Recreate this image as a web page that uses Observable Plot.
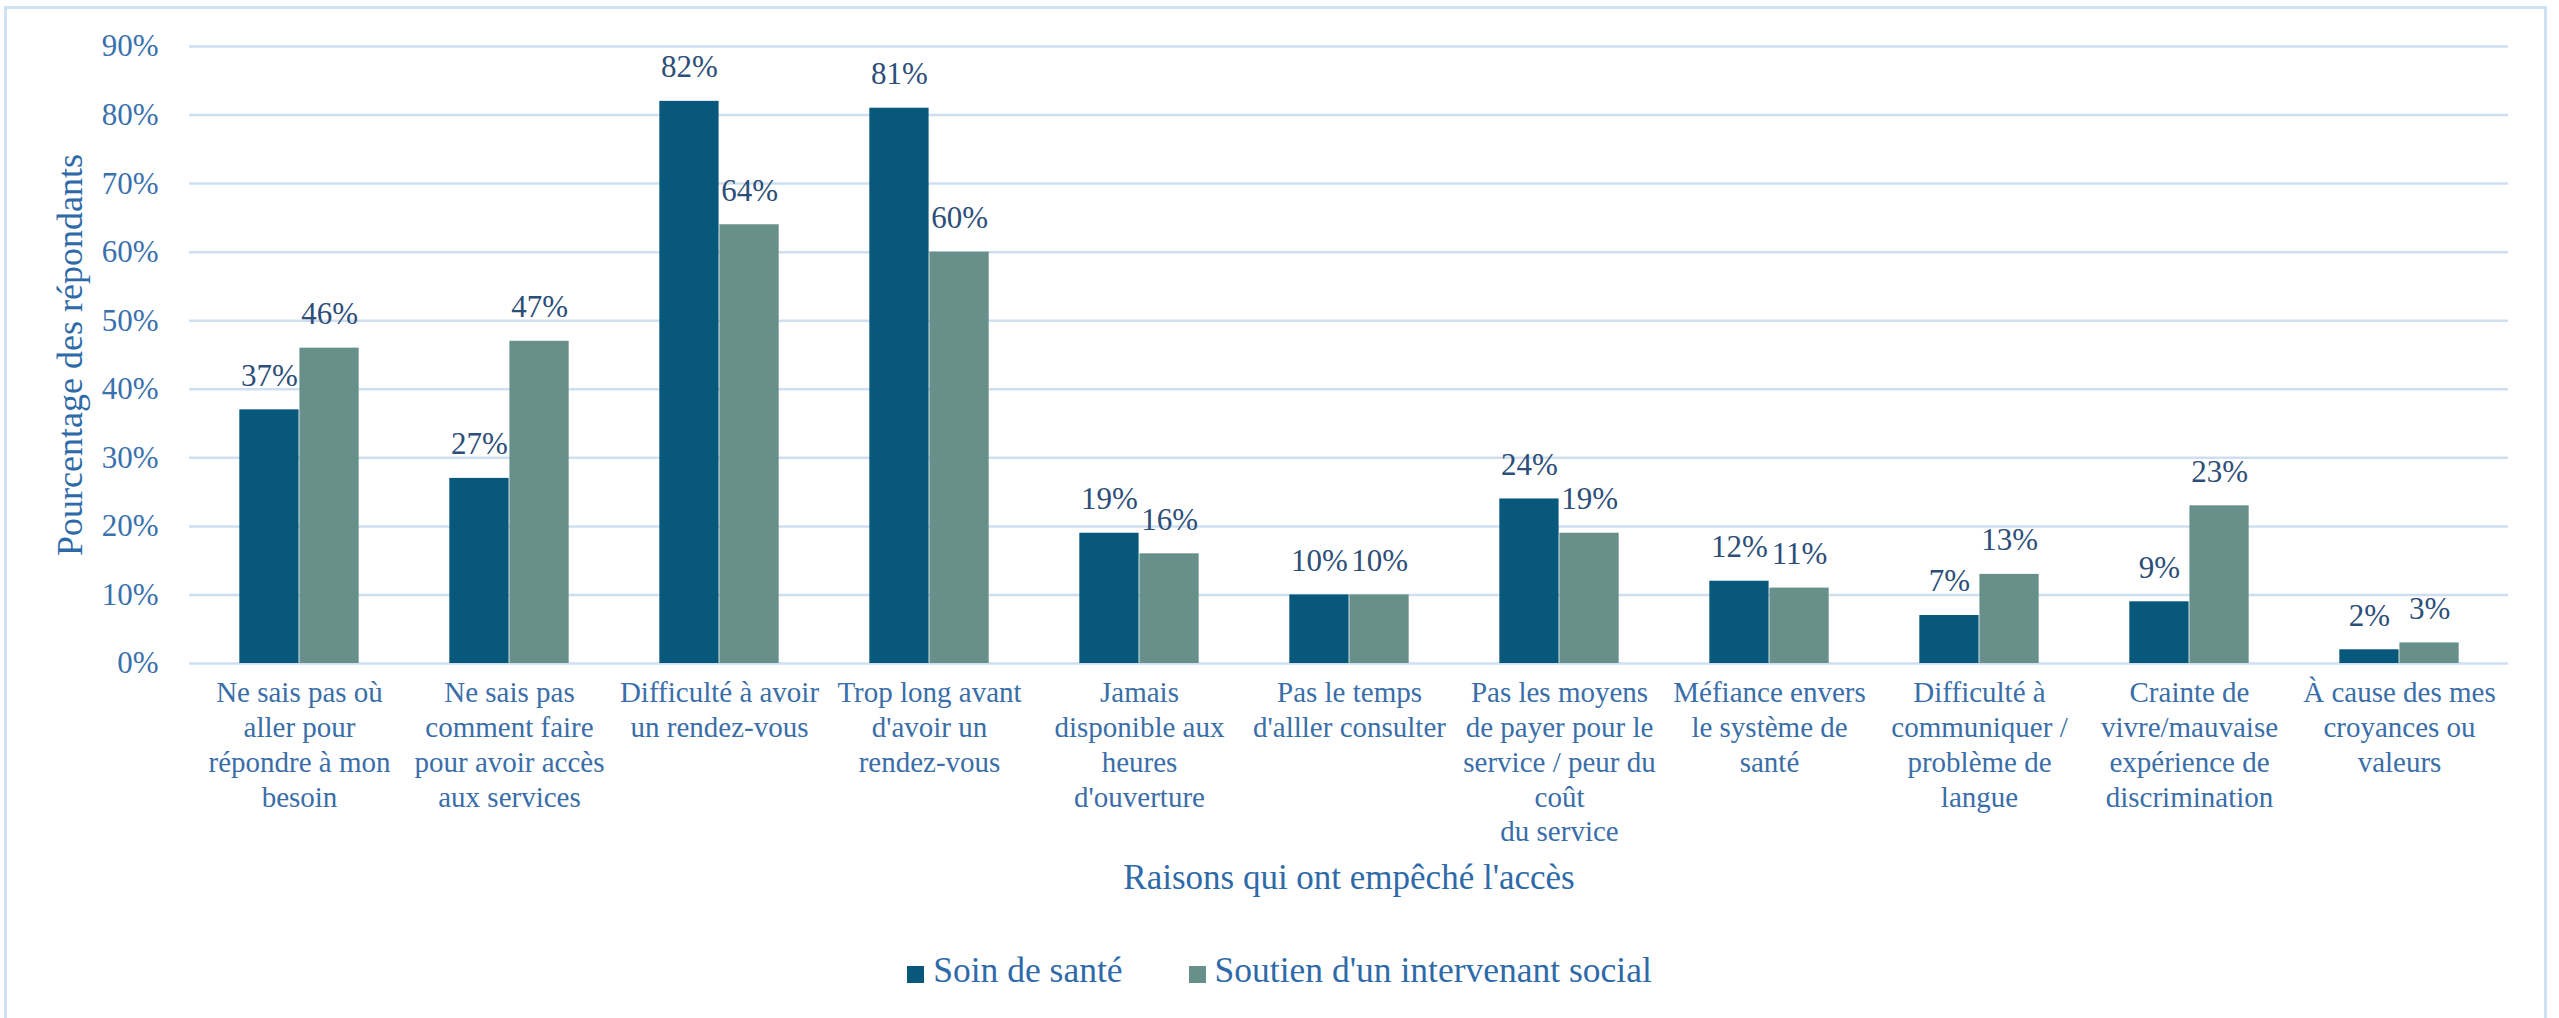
<!DOCTYPE html>
<html>
<head>
<meta charset="utf-8">
<script src="https://cdn.jsdelivr.net/npm/d3@7"></script>
<script src="https://cdn.jsdelivr.net/npm/@observablehq/plot@0.6"></script>
<style>
html, body { margin: 0; padding: 0; background: #fff; }
#wrap { position: relative; width: 2559px; height: 1018px; overflow: hidden; }
#frame { position: absolute; left: 4px; top: 6px; width: 2543px; height: 1030px; border: 3px solid #d0e1f2; box-sizing: border-box; }
#chart { position: absolute; left: 0; top: 0; }
#legend { position: absolute; left: 0; top: 947px; width: 2559px; display: flex; justify-content: center; align-items: center; gap: 66px; font-family: "Liberation Serif", serif; font-size: 35.5px; color: #2e6aa8; line-height: 46px; }
.item { display: flex; align-items: center; }
.sw { width: 17px; height: 17px; margin-right: 9px; position: relative; top: 4px; }
</style>
</head>
<body>
<div id="wrap">
  <div id="frame"></div>
  <div id="chart"></div>
  <div id="legend"></div>
</div>
<script>
const categories = [
  "Ne sais pas où\naller pour\nrépondre à mon\nbesoin",
  "Ne sais pas\ncomment faire\npour avoir accès\naux services",
  "Difficulté à avoir\nun rendez-vous",
  "Trop long avant\nd'avoir un\nrendez-vous",
  "Jamais\ndisponible aux\nheures\nd'ouverture",
  "Pas le temps\nd'alller consulter",
  "Pas les moyens\nde payer pour le\nservice / peur du\ncoût\ndu service",
  "Méfiance envers\nle système de\nsanté",
  "Difficulté à\ncommuniquer /\nproblème de\nlangue",
  "Crainte de\nvivre/mauvaise\nexpérience de\ndiscrimination",
  "À cause des mes\ncroyances ou\nvaleurs"
];
const seriesNames = ["Soin de santé", "Soutien d'un intervenant social"];
const santeValues = [37, 27, 82, 81, 19, 10, 24, 12, 7, 9, 2];
const socialValues = [46, 47, 64, 60, 16, 10, 19, 11, 13, 23, 3];
const yTicks = [0, 10, 20, 30, 40, 50, 60, 70, 80, 90];
const yTitle = "Pourcentage des répondants";
const xTitle = "Raisons qui ont empêché l'accès";
const seriesColors = ["#07587a", "#68908a"];

const W = 2559, H = 920, ML = 189, MR = 51, MT = 46, MB = 257;
const step = (W - ML - MR) / categories.length;   // band width per category
const barW = step * 0.285;                          // width of one bar
const half = step / 2;

const sante = categories.map((c, i) => ({cat: c, series: seriesNames[0], value: santeValues[i]}));
const social = categories.map((c, i) => ({cat: c, series: seriesNames[1], value: socialValues[i]}));

const chart = Plot.plot({
  width: W,
  height: H,
  marginLeft: ML,
  marginRight: MR,
  marginTop: MT,
  marginBottom: MB,
  style: {fontFamily: "Liberation Serif, serif", background: "transparent"},
  x: {domain: categories, padding: 0, axis: null},
  y: {domain: [0, 90], axis: null},
  color: {domain: seriesNames, range: seriesColors},
  marks: [
    Plot.ruleY(yTicks, {y: d => d, stroke: "#cfdff1", strokeWidth: 2.5}),
    Plot.barY(sante, {x: "cat", y: "value", fill: "series", insetLeft: half - barW, insetRight: half}),
    Plot.barY(social, {x: "cat", y: "value", fill: "series", insetLeft: half, insetRight: half - barW}),
    Plot.text(sante, {x: "cat", y: "value", text: d => d.value + "%", dx: -barW / 2, dy: -34, fill: "#2c4e78", fontSize: 31}),
    Plot.text(social, {x: "cat", y: "value", text: d => d.value + "%", dx: barW / 2, dy: -34, fill: "#2c4e78", fontSize: 31}),
    Plot.text(yTicks, {y: d => d, text: d => d + "%", frameAnchor: "left", textAnchor: "end", dx: -31, fill: "#3a71ad", fontSize: 31}),
    Plot.text([yTitle], {text: d => d, frameAnchor: "left", textAnchor: "middle", lineAnchor: "middle", rotate: -90, dx: -119, fontSize: 36, fill: "#2e6aa8"}),
    Plot.text(categories, {x: d => d, text: d => d, frameAnchor: "bottom", lineAnchor: "top", dy: 14, fontSize: 29, lineHeight: 1.2, fill: "#3a6ea8"}),
    Plot.text([xTitle], {text: d => d, frameAnchor: "bottom", lineAnchor: "middle", dy: 214, fontSize: 35, fill: "#2e6aa8"})
  ]
});
document.getElementById("chart").appendChild(chart);

const legend = document.getElementById("legend");
seriesNames.forEach((name, i) => {
  const item = document.createElement("div");
  item.className = "item";
  const sw = document.createElement("span");
  sw.className = "sw";
  sw.style.background = seriesColors[i];
  const label = document.createElement("span");
  label.textContent = name;
  item.appendChild(sw);
  item.appendChild(label);
  legend.appendChild(item);
});
</script>
</body>
</html>
